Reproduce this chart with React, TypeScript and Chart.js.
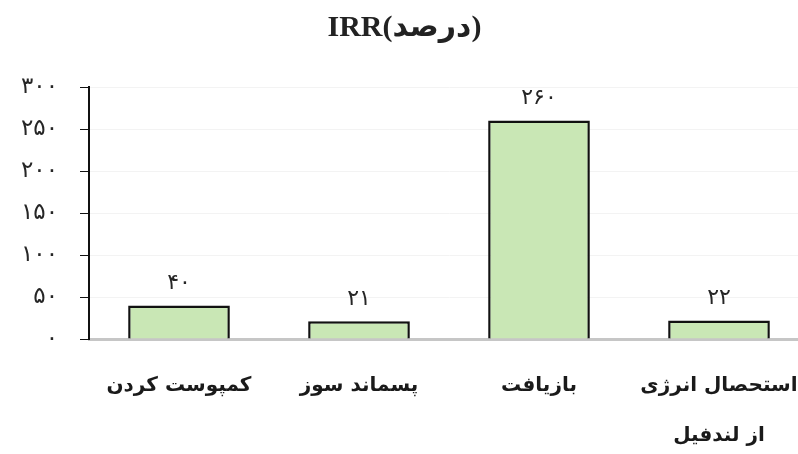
import React, { useEffect, useRef } from 'react';
import { Chart, registerables } from 'chart.js';

Chart.register(...registerables);

const categories: (string | string[])[] = [
  'کمپوست کردن',
  'پسماند سوز',
  'بازیافت',
  ['استحصال انرژی', 'از لندفیل'],
];
const irrValues: number[] = [40, 21, 260, 22];
const titleText = 'IRR(درصد)';
const yMin = 0;
const yMax = 300;
const yStep = 50;

const faDigits = '۰۱۲۳۴۵۶۷۸۹';
const toFa = (v: number | string) => String(v).replace(/\d/g, (d) => faDigits[Number(d)]);

const ARABIC_FONT = "'DejaVu Sans', 'Noto Sans', sans-serif";

const valueLabels = {
  id: 'valueLabels',
  afterDatasetsDraw(chart: any) {
    const ctx = chart.ctx;
    const meta = chart.getDatasetMeta(0);
    const data = chart.data.datasets[0].data as number[];
    ctx.save();
    ctx.font = `22px ${ARABIC_FONT}`;
    ctx.fillStyle = '#262626';
    ctx.textAlign = 'center';
    ctx.textBaseline = 'middle';
    meta.data.forEach((el: any, i: number) => {
      ctx.fillText(toFa(data[i]), el.x, el.y - 22);
    });
    ctx.restore();
  },
};

export default function App() {
  const ref = useRef<HTMLCanvasElement>(null);
  useEffect(() => {
    if (!ref.current) return;
    const chart = new Chart(ref.current, {
      type: 'bar',
      data: {
        labels: categories,
        datasets: [
          {
            data: irrValues,
            backgroundColor: '#c9e7b5',
            borderColor: '#111111',
            borderWidth: 2.5,
            borderSkipped: 'bottom',
            barPercentage: 0.565,
            categoryPercentage: 1,
          },
        ],
      },
      options: {
        responsive: false,
        animation: false,
        layout: { padding: 0 },
        plugins: {
          legend: { display: false },
          tooltip: { enabled: false },
          title: {
            display: true,
            text: titleText,
            color: '#222222',
            font: { family: "'Liberation Serif', 'DejaVu Sans', serif", size: 30, weight: 'bold', lineHeight: 1.2 },
            padding: { top: 10, bottom: 41 },
          },
        },
        scales: {
          x: {
            grid: { display: false, drawTicks: false },
            border: { display: true, color: '#c6c6c6', width: 3 },
            ticks: {
              autoSkip: false,
              maxRotation: 0,
              minRotation: 0,
              padding: 22,
              color: '#1a1a1a',
              font: { family: ARABIC_FONT, size: 20, weight: 'bold', lineHeight: '50px' as any },
            },
            afterFit: (scale: any) => {
              scale.height = 115;
              scale.paddingLeft = 0;
              scale.paddingRight = 0;
            },
          },
          y: {
            min: yMin,
            max: yMax,
            grid: { color: '#f3f3f3', tickColor: '#111111', tickLength: 9, lineWidth: 1 },
            border: { display: true, color: '#111111', width: 2 },
            ticks: {
              stepSize: yStep,
              padding: 22,
              color: '#262626',
              font: { family: ARABIC_FONT, size: 23 },
              callback: (v: any) => toFa(v),
            },
            afterFit: (scale: any) => {
              scale.width = 89;
            },
          },
        },
      },
      plugins: [valueLabels],
    });
    return () => chart.destroy();
  }, []);
  return (
    <div style={{ position: 'absolute', left: 0, top: 0, width: 798, height: 454, overflow: 'hidden', background: '#ffffff' }}>
      <canvas ref={ref} width={809} height={454} style={{ display: 'block' }} />
    </div>
  );
}
